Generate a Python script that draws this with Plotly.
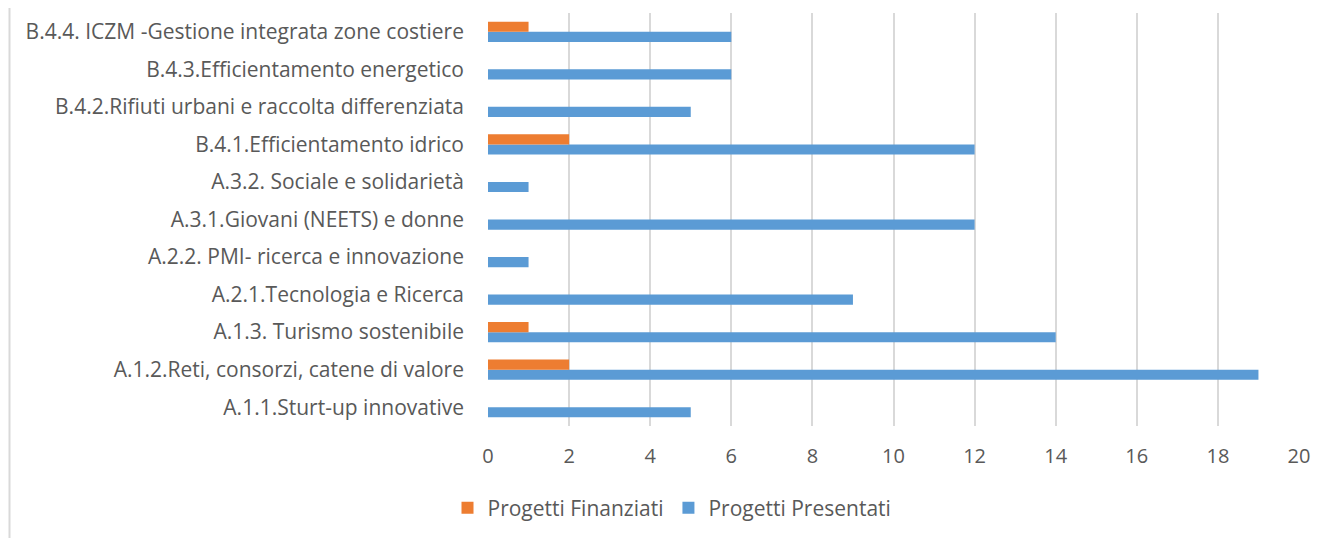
import plotly.graph_objects as go

categories = [
    "A.1.1.Sturt-up innovative",
    "A.1.2.Reti, consorzi, catene di valore",
    "A.1.3. Turismo sostenibile",
    "A.2.1.Tecnologia e Ricerca",
    "A.2.2. PMI- ricerca e innovazione",
    "A.3.1.Giovani (NEETS) e donne",
    "A.3.2. Sociale e solidarietà",
    "B.4.1.Efficientamento idrico",
    "B.4.2.Rifiuti urbani e raccolta differenziata",
    "B.4.3.Efficientamento energetico",
    "B.4.4. ICZM -Gestione integrata zone costiere",
]
presentati = [5, 19, 14, 9, 1, 12, 1, 12, 5, 6, 6]
finanziati = [0, 2, 1, 0, 0, 0, 0, 2, 0, 0, 1]
x_ticks = [0, 2, 4, 6, 8, 10, 12, 14, 16, 18, 20]

# page has 8px body offset
W, H = 1323, 530
L, R, T, B = 480, 32, 5, 112

FONT = "Open Sans, sans-serif"
TXT = "#595959"

fig = go.Figure()
fig.add_trace(go.Bar(
    y=categories, x=presentati, orientation="h", name="Progetti Presentati",
    marker=dict(color="#5b9bd5", line=dict(width=0)), legendrank=2,
))
fig.add_trace(go.Bar(
    y=categories, x=finanziati, orientation="h", name="Progetti Finanziati",
    marker=dict(color="#ed7d31", line=dict(width=0)), legendrank=1,
))

pw = W - L - R
ph = H - T - B
fig.update_layout(
    width=W, height=H,
    margin=dict(l=L, r=R, t=T, b=B, pad=0),
    paper_bgcolor="white", plot_bgcolor="white",
    barmode="group", bargap=0.46, bargroupgap=0,
    font=dict(family=FONT, color=TXT, size=20),
    xaxis=dict(
        range=[0, 20], tickvals=x_ticks, showgrid=True, gridcolor="#d9d9d9",
        gridwidth=1.5, zeroline=False, showline=False, ticks="",
        tickfont=dict(size=20, color=TXT, family=FONT), ticklabelstandoff=16,
    ),
    yaxis=dict(
        categoryorder="array", categoryarray=categories, showgrid=False,
        zeroline=False, showline=False, ticks="", ticklabelstandoff=23,
        tickfont=dict(size=21, color=TXT, family=FONT),
    ),
    legend=dict(
        orientation="h", x=(672 - 8) / W, xanchor="center", xref="container",
        y=(H - 500) / H, yanchor="middle", yref="container",
        font=dict(size=21, color=TXT, family=FONT),
        itemwidth=30, traceorder="normal",
    ),
    showlegend=True,
    shapes=[dict(
        type="line", xref="paper", yref="paper",
        x0=(1.5 - L) / pw, x1=(1.5 - L) / pw,
        y0=1 + T / ph, y1=-B / ph,
        line=dict(color="#d9d9d9", width=2),
    )],
)

fig.write_html("out.html")
